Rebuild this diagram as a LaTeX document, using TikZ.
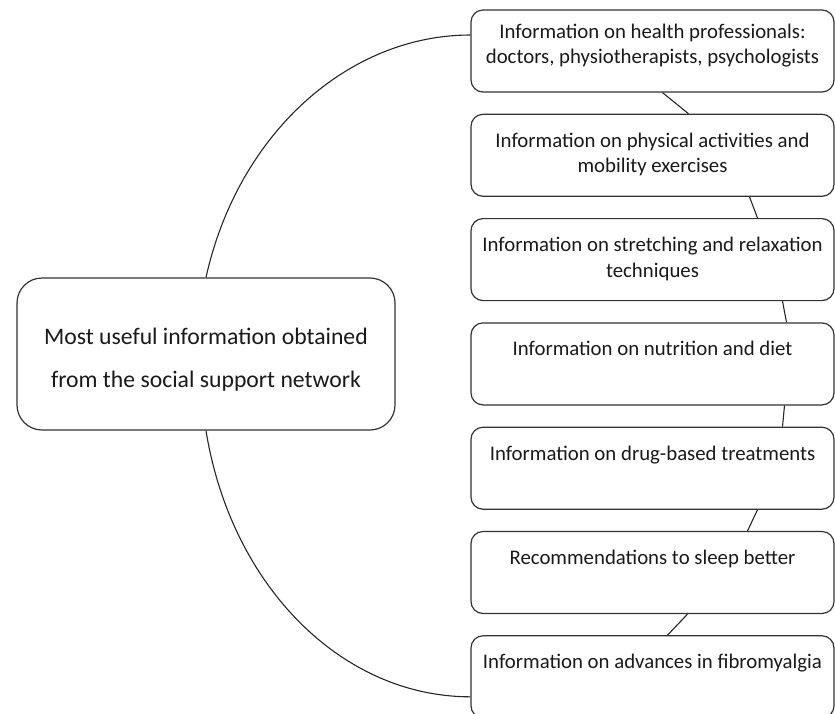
\documentclass[tikz,border=0pt]{standalone}
\usepackage{fontspec}
\setmainfont{Carlito}
\usepackage{tikz}
\usetikzlibrary{positioning}

\newcommand{\boxlines}[2][29pt]{\parbox[c][74pt][t]{358pt}{\centering\rule{0pt}{#1}#2}}

\tikzset{
  infobox/.style={draw=black!80, line width=1.2pt, rounded corners=12pt,
    minimum width=363pt, minimum height=82pt, inner xsep=2pt, inner ysep=4pt,
    text=black!90, font=\fontsize{20.8}{25.5}\selectfont},
  rootbox/.style={draw=black!80, line width=1.2pt, rounded corners=25pt,
    minimum width=378pt, minimum height=152pt, align=center,
    text=black!90, font=\fontsize{23.7}{43}\selectfont},
  link/.style={draw=black!85, line width=1.1pt}
}

\begin{document}
\begin{tikzpicture}[x=1pt, y=-1pt, node distance=21.1pt]
\useasboundingbox (0,0) rectangle (835,713);

\node[rootbox] (root) at (206,354) {\rule{0pt}{28pt}Most useful information obtained\\from the social support network};

\node[infobox] (n1) at (652.5,51) {\boxlines[24pt]{Information on health professionals:\\doctors, physiotherapists, psychologists}};
\node[infobox, below=of n1] (n2) {\boxlines{Information on physical activities and\\mobility exercises}};
\node[infobox, below=of n2] (n3) {\boxlines{Information on stretching and relaxation\\techniques}};
\node[infobox, below=of n3] (n4) {\boxlines{Information on nutrition and diet}};
\node[infobox, below=of n4] (n5) {\boxlines{Information on drug-based treatments}};
\node[infobox, below=of n5] (n6) {\boxlines{Recommendations to sleep better}};
\node[infobox, below=of n6] (n7) {\boxlines{Information on advances in fibromyalgia}};

\draw[link] (root.north) .. controls +(32,-144) and +(-122,0) .. ([yshift=16pt]n1.west);
\draw[link] (root.south) .. controls +(25,155) and +(-129,0) .. ([yshift=-20pt]n7.west);

\foreach \a/\b/\s/\e in {n1/n2/10/36, n2/n3/97/105, n3/n4/130/134, n4/n5/132/130, n5/n6/105/95, n6/n7/35/15}
  \draw[link] ([xshift=\s pt]\a.south) -- ([xshift=\e pt]\b.north);
\end{tikzpicture}
\end{document}
